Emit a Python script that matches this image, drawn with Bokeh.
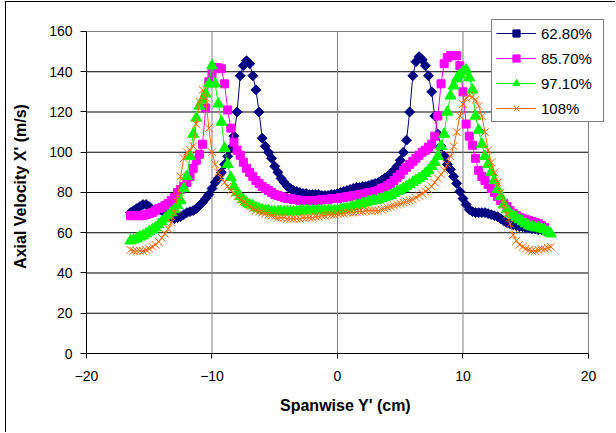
import numpy as np
from bokeh.plotting import figure
from bokeh.models import Legend, LegendItem, FixedTicker, Range1d
from bokeh.embed import file_html
from bokeh.resources import INLINE

nan = float("nan")

# Spanwise positions Y' (cm)
span_cm = [
    -16.5, -16.25, -16.0, -15.75, -15.5, -15.25, -15.0, -14.75,
    -14.5, -14.25, -14.0, -13.75, -13.5, -13.25, -13.0, -12.75,
    -12.5, -12.25, -12.0, -11.75, -11.5, -11.25, -11.0, -10.75,
    -10.5, -10.25, -10.0, -9.75, -9.5, -9.25, -9.0, -8.75,
    -8.5, -8.25, -8.0, -7.75, -7.5, -7.25, -7.0, -6.75,
    -6.5, -6.25, -6.0, -5.75, -5.5, -5.25, -5.0, -4.75,
    -4.5, -4.25, -4.0, -3.75, -3.5, -3.25, -3.0, -2.75,
    -2.5, -2.25, -2.0, -1.75, -1.5, -1.25, -1.0, -0.75,
    -0.5, -0.25, 0.0, 0.25, 0.5, 0.75, 1.0, 1.25,
    1.5, 1.75, 2.0, 2.25, 2.5, 2.75, 3.0, 3.25,
    3.5, 3.75, 4.0, 4.25, 4.5, 4.75, 5.0, 5.25,
    5.5, 5.75, 6.0, 6.25, 6.5, 6.75, 7.0, 7.25,
    7.5, 7.75, 8.0, 8.25, 8.5, 8.75, 9.0, 9.25,
    9.5, 9.75, 10.0, 10.25, 10.5, 10.75, 11.0, 11.25,
    11.5, 11.75, 12.0, 12.25, 12.5, 12.75, 13.0, 13.25,
    13.5, 13.75, 14.0, 14.25, 14.5, 14.75, 15.0, 15.25,
    15.5, 15.75, 16.0, 16.25, 16.5, 16.75, 17.0,
]

# Axial velocity X' (m/s) for each series
vel_62_80 = [
    70, 71, 72, 73, 74, 74, 73, 71,
    71, 72, 71, 70, 69, 68, 67, 67.5,
    68, 69, 70, 70.5, 71, 72, 73.5, 75,
    77, 79, 82, 85, 87, 90, 94, 98,
    102, 108, 120, 138, 143, 145.5, 144, 138,
    131, 120, 107, 103, 100, 97, 93, 90,
    87, 85, 83, 82, 81, 80.5, 80, 79.5,
    79.5, 79, 79, 79, 79, 78.5, 78.5, 78.5,
    79, 79, 79.5, 80, 80.5, 81, 81.5, 82,
    82.5, 82.5, 83, 83, 83.5, 84, 84.5, 85,
    86, 87, 88, 89.5, 91, 93, 96, 100,
    106, 120, 138, 145, 147.5, 146, 143, 138,
    130, 118, 109, 103, 98, 94, 91.5, 88,
    84.5, 80.5, 77, 74, 71.5, 70.5, 70, 70,
    70, 70, 69.5, 69, 68.5, 68, 67, 66,
    65, 64.5, 64, 63.5, 63, 63, 62.5, 62.5,
    62, 62, 61.5, 61.5, 61, nan, nan,
]

vel_85_70 = [
    68.5, 68.5, 68.5, 68.5, 68.5, 69, 69.5, 70,
    71, 72, 72.5, 73.5, 74.5, 76, 77.5, 80,
    81.5, 83, 85, 88, 92, 96, 99, 104,
    122, 135, 139, 142, 142, 141.5, 134, 121,
    112, 105, 101, 98.5, 95, 92, 90, 88,
    86, 84.5, 83, 82, 81, 80, 79, 78.5,
    78, 77.5, 77, 77, 76.5, 76.5, 76, 76,
    76, 76, 76, 76, 76, 76.5, 76.5, 76.5,
    77, 77, 77, 77.5, 77.5, 78, 78, 78.5,
    78.5, 79, 79, 79.5, 80, 80, 80.5, 81,
    82, 82.5, 83.5, 84.5, 86, 87.5, 89, 91,
    92.5, 94, 95.5, 97, 98.5, 100, 101, 102.5,
    104, 108, 118, 134, 144, 147, 148, 148,
    148, 143, 130, 114, 108, 103.5, 97, 91,
    88, 86, 84, 82, 80, 78, 76, 74.5,
    73, 71, 69.5, 68.5, 67.5, 67, 66.5, 66,
    65.5, 65, 64.5, 63.5, 62.5, nan, nan,
]

vel_97_10 = [
    56, 56.5, 57, 58, 58.5, 59.5, 60.5, 61.5,
    62.5, 64, 65.5, 67, 68.5, 70, 71.5, 73.5,
    76, 82, 88, 98, 109, 117, 123, 126,
    129, 134, 143, 134, 124, 115, 102, 94,
    87.5, 83, 80, 78, 76.5, 75, 74, 73.5,
    72.5, 72, 71.5, 71, 71, 70.5, 70.5, 70.5,
    70.5, 70.5, 70.5, 70.5, 70.5, 70.5, 71, 71,
    71, 71, 71, 71, 71, 71, 71, 71,
    71, 71, 71, 71.5, 72, 72, 72.5, 73,
    73.5, 74, 74.5, 75, 75.5, 76, 76, 76.5,
    77, 77.5, 78, 78.5, 79.5, 80.5, 81, 82,
    83, 84, 85, 86, 87, 88, 89.5, 91,
    93, 95, 98, 103, 109, 120, 128, 133,
    136.5, 138.5, 140, 141, 137, 131, 118, 111,
    104, 98, 94, 90, 86, 81.5, 78, 74,
    71.5, 69.5, 68.5, 67.5, 66.5, 65.5, 64.5, 63.5,
    63, 62.5, 62.5, 62, 61.5, 60.5, 59.5,
]

vel_108 = [
    51.5, 51, 51, 51, 51, 51.5, 52, 53,
    54, 55.5, 57.5, 59.5, 62, 65, 70, 78,
    88, 97, 100, 101, 103, 114, 125, 131,
    127, 112, 100, 94, 90, 87, 85, 83,
    81, 79.5, 78, 76.5, 75.5, 74.5, 73, 72,
    71, 70.5, 70, 69.5, 69, 68.5, 68, 67.5,
    67.5, 67.5, 67, 67, 67, 67, 67, 67.5,
    67.5, 67.5, 67.5, 68, 68, 68.5, 68.5, 69,
    69, 69, 69.5, 69.5, 69.5, 70, 70, 70,
    70.5, 70.5, 70.5, 71, 71, 71, 71, 71,
    71.5, 72, 72.5, 73, 73.5, 74, 74.5, 75,
    75.5, 76, 76.5, 77.5, 78.5, 79.5, 80.5, 81.5,
    83, 85, 87, 89, 91, 94, 98, 103,
    110, 118, 124, 127, 128, 127.5, 126, 123,
    118, 110, 101, 95, 90, 85, 80, 74,
    69, 64.5, 59, 56, 54, 53, 52, 51.5,
    51, 51, 51.5, 52, 52, 52.5, 53,
]

series_labels = ["62.80%", "85.70%", "97.10%", "108%"]
x_ticks = [-20, -10, 0, 10, 20]
y_ticks = [0, 20, 40, 60, 80, 100, 120, 140, 160]

FONT = "Liberation Sans"
X_MIN, X_MAX = x_ticks[0], x_ticks[-1]
Y_MIN, Y_MAX = y_ticks[0], y_ticks[-1]

# Frame is a bit larger than the axes box so the legend (which sticks out
# above and to the right of the plot area) is not clipped.
p = figure(width=610, height=431, output_backend="svg", toolbar_location=None,
           x_range=Range1d(X_MIN, X_MAX + 1.275), y_range=Range1d(Y_MIN, Y_MAX + 5.96),
           min_border_left=80, min_border_right=12, min_border_top=17,
           min_border_bottom=80)
# thin chart-area border on the left and top edges
p.styles = {"margin-left": "6px", "margin-top": "2px",
            "box-shadow": "-1px -1px 0px 0px black"}

p.background_fill_color = "white"
p.border_fill_color = "white"
p.outline_line_color = None
p.grid.visible = False

p.xaxis.ticker = FixedTicker(ticks=x_ticks)
p.yaxis.ticker = FixedTicker(ticks=y_ticks)
p.xaxis.bounds = (X_MIN, X_MAX)
p.yaxis.bounds = (Y_MIN, Y_MAX)

for ax in (p.xaxis, p.yaxis):
    ax.axis_line_color = "black"
    ax.major_tick_line_color = "black"
    ax.minor_tick_line_color = None
    ax.major_tick_in = 0
    ax.major_label_text_font = FONT
    ax.major_label_text_font_size = "14px"
    ax.major_label_text_color = "black"
    ax.axis_label_text_font = FONT
    ax.axis_label_text_font_size = "16px"
    ax.axis_label_text_font_style = "bold"
    ax.axis_label_text_color = "black"

p.yaxis.major_tick_out = 6
p.yaxis.major_label_standoff = 8
p.yaxis.axis_label_standoff = 17
p.xaxis.major_tick_out = 5
p.xaxis.major_label_standoff = 12
p.xaxis.axis_label_standoff = 13
p.xaxis.axis_label = "Spanwise Y' (cm)"
p.yaxis.axis_label = "Axial Velocity X' (m/s)"

# Gridlines (black horizontal, gray vertical) and gray plot-area border
inner_y = y_ticks[1:-1]
inner_x = x_ticks[1:-1]
p.segment(x0=[X_MIN] * len(inner_y), y0=inner_y, x1=[X_MAX] * len(inner_y), y1=inner_y,
          line_color="black", line_width=1)
p.segment(x0=inner_x, y0=[Y_MIN] * len(inner_x), x1=inner_x, y1=[Y_MAX] * len(inner_x),
          line_color="#808080", line_width=1)
p.segment(x0=[X_MIN, X_MAX], y0=[Y_MAX, Y_MIN], x1=[X_MAX, X_MAX], y1=[Y_MAX, Y_MAX],
          line_color="#808080", line_width=1)

styles = [
    dict(color="#000080", marker="square", size=7, angle=np.pi / 4),
    dict(color="#FF00FF", marker="square", size=8, angle=0),
    dict(color="#00FF00", marker="triangle", size=11, angle=0),
    dict(color="#FF6600", marker="x", size=11, angle=0),
]
data = [vel_62_80, vel_85_70, vel_97_10, vel_108]

items = []
for lab, ys, st in zip(series_labels, data, styles):
    ln = p.line(span_cm, ys, line_color=st["color"], line_width=1)
    sc = p.scatter(span_cm, ys, marker=st["marker"], size=st["size"], angle=st["angle"],
                   fill_color=st["color"], line_color=st["color"], line_width=1)
    items.append(LegendItem(label=lab, renderers=[ln, sc]))

legend = Legend(items=items, location=(405, 231), padding=4, spacing=7,
                label_height=18, glyph_height=18, glyph_width=40, label_standoff=5,
                label_width=58, margin=0, border_line_color="black", border_line_width=1,
                background_fill_color="white", background_fill_alpha=1,
                label_text_font=FONT, label_text_font_size="15px", label_text_color="black")
p.add_layout(legend)

open("out.html", "w").write(file_html(p, INLINE))
